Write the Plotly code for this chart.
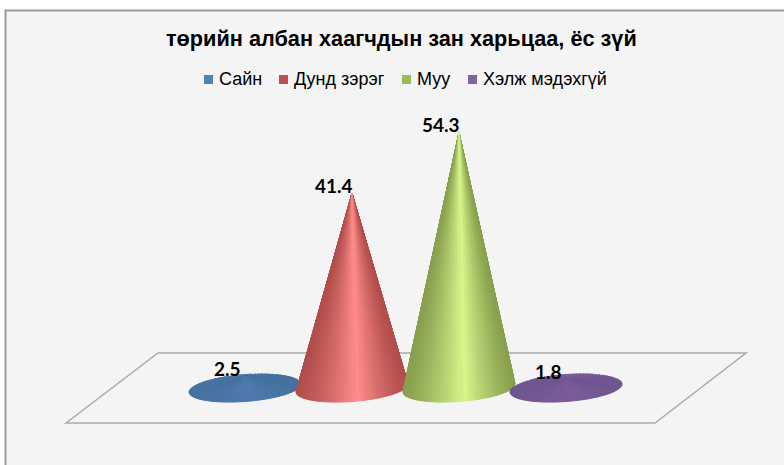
import math
import plotly.graph_objects as go

# --- data ---
TITLE = "төрийн албан хаагчдын зан харьцаа, ёс зүй"
categories = ["Сайн", "Дунд зэрэг", "Муу", "Хэлж мэдэхгүй"]
values = [2.5, 41.4, 54.3, 1.8]
labels = ["2.5", "41.4", "54.3", "1.8"]

# --- style ---
legend_colors = ["#4f81bd", "#c0504d", "#9bbb59", "#8064a2"]
legend_swatch_px = [204, 279, 402, 468]
edge_colors = [(70, 113, 160), (176, 78, 76), (136, 160, 78), (112, 86, 144)]
light_colors = [(78, 122, 174), (255, 140, 138), (214, 246, 140), (122, 92, 152)]
W, H = 784, 465
PX_X, PX_Y = 107.0, 4.7         # pixels per category / per value unit
X0, Y0 = 245.0, 388.0           # pixel of first category on the floor
BASE_A, BASE_B, BASE_TILT = 56 / PX_X, 13.5 / PX_Y, 4 / PX_Y
N = 96


def mix(a, b, f):
    return "rgb(%d,%d,%d)" % tuple(round(a[k] + (b[k] - a[k]) * f) for k in range(3))


def px(x, y):
    return x / W, 1 - y / H


fig = go.Figure()

for i, (name, v) in enumerate(zip(categories, values)):
    order = sorted(range(N), key=lambda k: -math.sin(2 * math.pi * (k + .5) / N))
    for k in order:
        t0, t1 = 2 * math.pi * k / N, 2 * math.pi * (k + 1) / N
        u = math.cos((t0 + t1) / 2)
        d = abs(u - 0.1) / (1.1 if u < 0.1 else 0.9)
        f = max(0.0, 1 - d) ** 1.3
        xs = [i, i + BASE_A * math.cos(t0), i + BASE_A * math.cos(t1), i]
        ys = [v,
              BASE_B * math.sin(t0) + BASE_TILT * math.cos(t0),
              BASE_B * math.sin(t1) + BASE_TILT * math.cos(t1),
              v]
        c = mix(edge_colors[i], light_colors[i], f)
        fig.add_trace(go.Scatter(x=xs, y=ys, mode="lines", fill="toself", fillcolor=c, name=name,
                                 line=dict(color=c, width=1), hoverinfo="skip",
                                 showlegend=False))

annotations = [dict(x=i, y=v, xref="x", yref="y", text=t, showarrow=False, xshift=-18, yshift=8,
                    yanchor="middle",
                    font=dict(family="Lato", size=19, color="#000000", weight="bold"))
               for i, (v, t) in enumerate(zip(values, labels))]
annotations.append(dict(x=401.5 / W, y=1 - 38 / H, xref="paper", yref="paper", text=f"<b>{TITLE}</b>",
                        showarrow=False, yanchor="middle",
                        font=dict(family="Liberation Sans", size=21.7, color="#000000")))

shapes = [
    dict(type="rect", xref="paper", yref="paper", x0=5.5 / W, x1=1.02, y0=-0.02, y1=1 - 10.5 / H,
         line=dict(color="#9a9a9a", width=2), fillcolor="#f4f4f4", layer="below"),
]
floor = [px(66, 423), px(158, 353), px(746, 353), px(655, 423)]
shapes.append(dict(type="path", xref="paper", yref="paper",
                   path="M " + " L ".join(f"{a:.4f},{b:.4f}" for a, b in floor) + " Z",
                   line=dict(color="#a9a9a9", width=1.5), fillcolor="rgba(0,0,0,0)", layer="below"))

# legend row: swatch + name
for name, col, sx in zip(categories, legend_colors, legend_swatch_px):
    shapes.append(dict(type="rect", xref="paper", yref="paper", x0=sx / W, x1=(sx + 9) / W,
                       y0=1 - 84 / H, y1=1 - 75 / H, line=dict(width=0), fillcolor=col))
    annotations.append(dict(x=(sx + 13) / W, y=1 - 79.5 / H, xref="paper", yref="paper", text=name,
                            showarrow=False, xanchor="left", yanchor="middle",
                            font=dict(family="Liberation Sans", size=18, color="#000000")))

fig.update_layout(
    width=W, height=H, margin=dict(l=0, r=0, t=0, b=0),
    paper_bgcolor="#ffffff", plot_bgcolor="rgba(0,0,0,0)",
    showlegend=False,
    xaxis=dict(visible=False, range=[-X0 / PX_X, (W - X0) / PX_X], fixedrange=True),
    yaxis=dict(visible=False, range=[(Y0 - H) / PX_Y, Y0 / PX_Y], fixedrange=True),
    annotations=annotations,
    shapes=shapes,
)

fig.write_html("out.html", config={"displayModeBar": False},
               post_script="document.body.style.margin='0';document.body.style.overflow='hidden';")
